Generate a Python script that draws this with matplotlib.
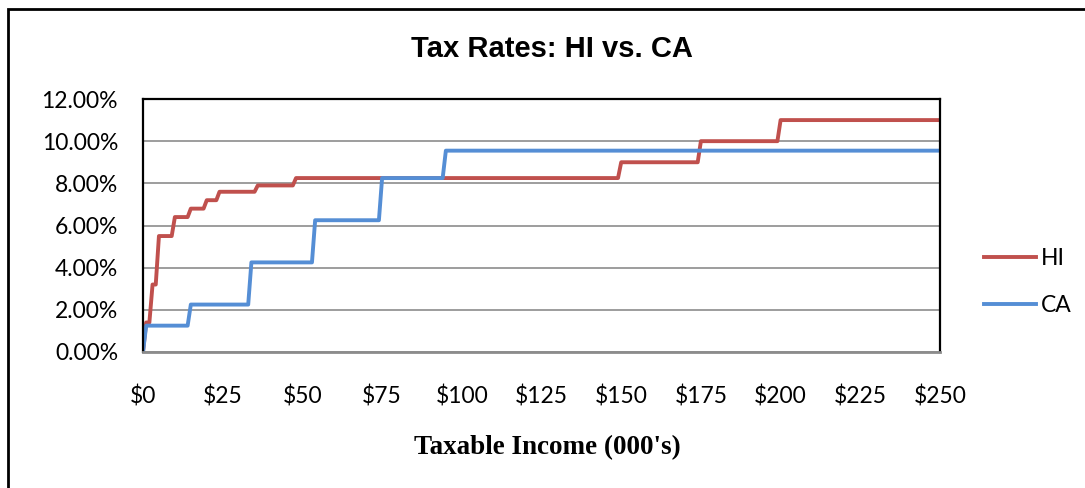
import numpy as np
import matplotlib
matplotlib.use("Agg")
import matplotlib.pyplot as plt
import matplotlib.ticker as mtick
from matplotlib.patches import Rectangle

# bracket lower bounds (in $000) and marginal rates (%)
hi_bounds = [0, 2.4, 4.8, 9.6, 14.4, 19.2, 24, 36, 48, 150, 175, 200]
hi_rates = [1.4, 3.2, 5.5, 6.4, 6.8, 7.2, 7.6, 7.9, 8.25, 9.0, 10.0, 11.0]
ca_bounds = [0, 14.336, 33.988, 53.642, 74.466, 94.11]
ca_rates = [1.25, 2.25, 4.25, 6.25, 8.25, 9.55]

income = np.arange(0, 251)  # sampled every $1,000
x_ticks = list(range(0, 251, 25))
x_labels = ["$" + str(t) for t in x_ticks]
y_ticks = [0, 2, 4, 6, 8, 10, 12]


def rate_at(bounds, rates):
    idx = np.searchsorted(bounds, income, side="right") - 1
    r = np.array(rates)[idx]
    r[0] = 0.0
    return r


hi = rate_at(hi_bounds, hi_rates)
ca = rate_at(ca_bounds, ca_rates)

fig = plt.figure(figsize=(10.85, 4.88), dpi=100)
ax = fig.add_axes([143 / 1085, 1 - 352 / 488, 797 / 1085, 253 / 488])

ax.plot(income, hi, color="#C0504D", lw=2.8, label="HI", solid_joinstyle="round")
ax.plot(income, ca, color="#558ED5", lw=2.8, label="CA", solid_joinstyle="round")

ax.set_xlim(0, 250)
ax.set_ylim(0, 12)
ax.set_xticks(x_ticks)
ax.set_xticklabels(x_labels)
ax.set_yticks(y_ticks)
ax.yaxis.set_major_formatter(mtick.FormatStrFormatter("%.2f%%"))
ax.tick_params(axis="both", length=0, labelsize=16.5)
ax.tick_params(axis="y", pad=18)
ax.tick_params(axis="x", pad=24)
for lab in ax.get_xticklabels() + ax.get_yticklabels():
    lab.set_fontfamily("Lato")

ax.grid(axis="y", color="#8c8c8c", lw=1.2)
ax.set_axisbelow(True)
for s in ["left", "top", "right"]:
    ax.spines[s].set_color("black")
    ax.spines[s].set_linewidth(1.6)
ax.spines["bottom"].set_color("#8c8c8c")
ax.spines["bottom"].set_linewidth(2)

fig.text(552 / 1085, 1 - 49 / 488, "Tax Rates: HI vs. CA", ha="center", va="center",
         fontsize=21, fontweight="bold", family="Liberation Sans")
fig.text(547 / 1085, 1 - 448 / 488, "Taxable Income (000's)", ha="center", va="center",
         fontsize=19.5, fontweight="bold", family="Liberation Serif")

fig.legend(loc="center left", bbox_to_anchor=(963 / 1085, 1 - 282 / 488), frameon=False,
           prop={"family": "Lato", "size": 16.5}, handlelength=2.3, handletextpad=0.2,
           labelspacing=1.1)

fig.patches.append(Rectangle((8 / 1085, -0.05), 1.1, 1 - 9 / 488 + 0.05, transform=fig.transFigure,
                             fill=False, edgecolor="black", lw=2, clip_on=False))

fig.savefig("out.png", dpi=100)
